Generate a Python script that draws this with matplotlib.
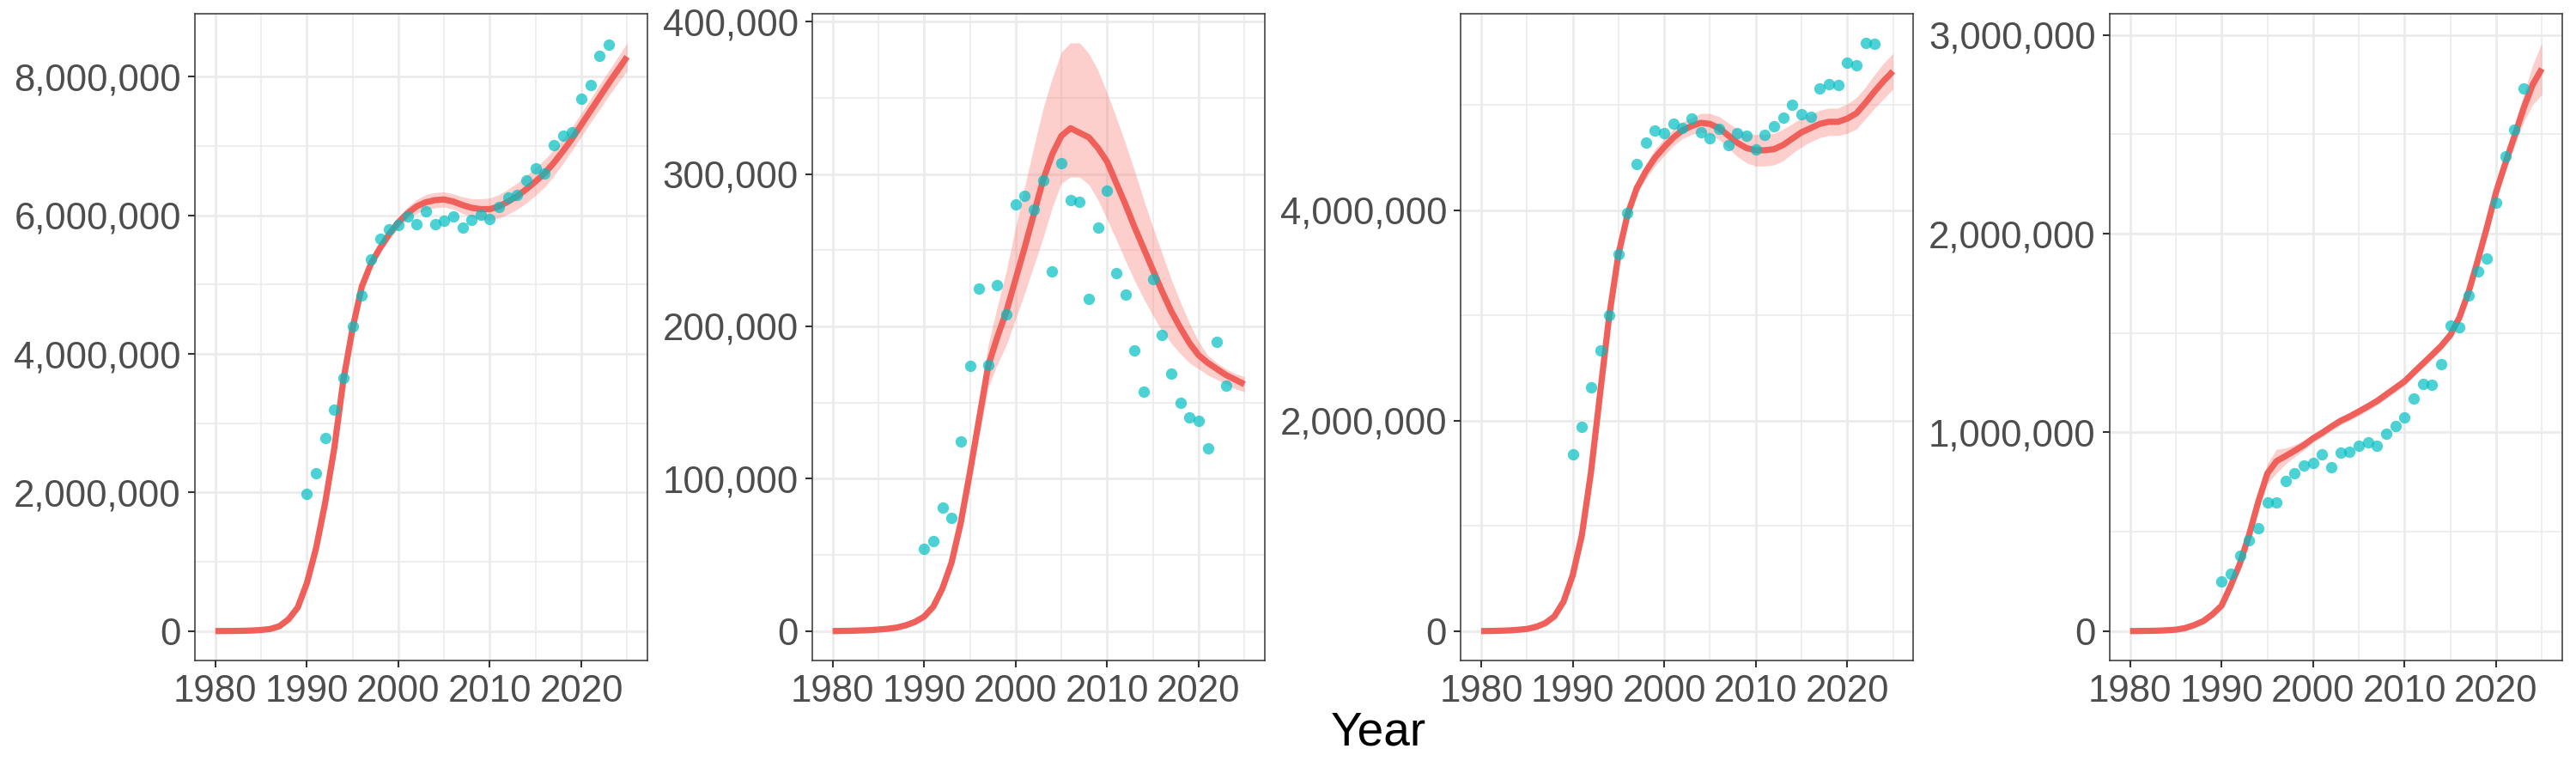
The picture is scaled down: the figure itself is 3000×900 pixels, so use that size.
import numpy as np
import matplotlib
matplotlib.use("Agg")
import matplotlib.pyplot as plt
from matplotlib.ticker import MultipleLocator, FuncFormatter

plt.rcParams['font.family'] = ['Liberation Sans', 'DejaVu Sans']

# ---- data ----
fit_years = np.arange(1980, 2026)
pt_years = np.arange(1990, 2024)

# panel 1, values in millions
fit1 = [0.000, 0.001, 0.002, 0.004, 0.008, 0.016, 0.03, 0.07, 0.17, 0.34,
        0.69, 1.19, 1.85, 2.64, 3.63, 4.37, 4.97, 5.30, 5.53, 5.73,
        5.90, 6.03, 6.13, 6.19, 6.22, 6.23, 6.20, 6.15, 6.11, 6.09,
        6.09, 6.13, 6.20, 6.28, 6.38, 6.49, 6.61, 6.76, 6.93, 7.11,
        7.31, 7.51, 7.71, 7.91, 8.10, 8.29]
band1 = [0, 0, 0, 0, 0, 0.005, 0.01, 0.015, 0.02, 0.03,
         0.04, 0.05, 0.06, 0.06, 0.06, 0.07, 0.07, 0.07, 0.07, 0.08,
         0.08, 0.09, 0.10, 0.11, 0.11, 0.11, 0.11, 0.12, 0.13, 0.15,
         0.16, 0.17, 0.18, 0.19, 0.20, 0.20, 0.20, 0.19, 0.18, 0.17,
         0.17, 0.17, 0.18, 0.18, 0.19, 0.20]
pts1 = [1.98, 2.28, 2.79, 3.20, 3.65, 4.40, 4.85, 5.37, 5.66, 5.80,
        5.86, 5.99, 5.87, 6.06, 5.87, 5.92, 5.99, 5.83, 5.94, 6.01,
        5.95, 6.12, 6.26, 6.30, 6.50, 6.68, 6.61, 7.01, 7.15, 7.20,
        7.68, 7.88, 8.30, 8.47]

# panel 2, values in thousands
fit2 = [0, 0.1, 0.2, 0.4, 0.6, 1.0, 1.5, 2.3, 3.8, 6.0,
        9.5, 16, 28, 45, 71, 104, 139, 174, 193, 210,
        231, 252, 274, 296, 313, 325, 330, 327, 324, 317,
        308, 294, 280, 265, 251, 237, 223, 210, 199, 189,
        181, 176, 172, 168, 165, 162]
lo2 = [0, 0, 0, 0.2, 0.4, 0.7, 1.1, 1.7, 2.9, 4.8,
       8.0, 14, 25, 41, 65, 97, 128, 160, 175, 188,
       205, 222, 240, 258, 278, 294, 298, 298, 293, 283,
       270, 257, 243, 230, 218, 207, 197, 189, 182, 176,
       172, 168, 165, 162, 159, 157]
hi2 = [0, 0.2, 0.4, 0.6, 0.8, 1.3, 1.9, 2.9, 4.7, 7.2,
       11, 18, 31, 50, 77, 112, 150, 188, 213, 237,
       265, 292, 318, 343, 363, 380, 386, 386, 379, 368,
       353, 337, 320, 302, 283, 265, 248, 231, 216, 202,
       190, 181, 176, 172, 169, 167]
pts2 = [54, 59, 81, 74, 124.5, 174, 225, 174.5, 227, 207.6,
        280, 285.5, 276.6, 296, 236, 307, 282.7, 281.5, 218, 264.6,
        289.3, 235, 221, 184, 157, 231, 194.4, 169, 150, 140,
        138, 120, 190, 161]

# panel 3, values in millions
fit3 = [0, 0.001, 0.003, 0.006, 0.012, 0.02, 0.04, 0.075, 0.14, 0.28,
        0.53, 0.91, 1.51, 2.26, 3.00, 3.58, 3.96, 4.21, 4.37, 4.50,
        4.60, 4.69, 4.76, 4.80, 4.83, 4.82, 4.78, 4.71, 4.64, 4.59,
        4.57, 4.57, 4.58, 4.62, 4.68, 4.74, 4.78, 4.82, 4.84, 4.84,
        4.87, 4.92, 5.02, 5.13, 5.23, 5.32]
band3 = [0, 0, 0, 0, 0, 0.005, 0.005, 0.01, 0.01, 0.015,
         0.02, 0.02, 0.03, 0.03, 0.03, 0.03, 0.04, 0.06, 0.07, 0.08,
         0.08, 0.08, 0.08, 0.08, 0.09, 0.10, 0.11, 0.12, 0.13, 0.14,
         0.15, 0.15, 0.15, 0.15, 0.14, 0.14, 0.13, 0.13, 0.13, 0.13,
         0.14, 0.15, 0.15, 0.16, 0.17, 0.17]
pts3 = [1.68, 1.94, 2.32, 2.67, 3.00, 3.58, 3.97, 4.44, 4.64, 4.76,
        4.73, 4.82, 4.78, 4.87, 4.74, 4.68, 4.77, 4.62, 4.73, 4.71,
        4.58, 4.72, 4.80, 4.88, 5.00, 4.91, 4.89, 5.16, 5.20, 5.19,
        5.40, 5.38, 5.59, 5.58]

# panel 4, values in millions
fit4 = [0, 0.0005, 0.001, 0.002, 0.004, 0.007, 0.015, 0.03, 0.05, 0.084,
        0.128, 0.228, 0.339, 0.483, 0.649, 0.793, 0.855, 0.881, 0.908, 0.936,
        0.970, 0.998, 1.029, 1.058, 1.080, 1.105, 1.131, 1.158, 1.191, 1.224,
        1.257, 1.302, 1.346, 1.390, 1.435, 1.490, 1.579, 1.707, 1.866, 2.032,
        2.209, 2.353, 2.490, 2.630, 2.750, 2.830]
band4 = [0, 0, 0, 0, 0, 0.002, 0.003, 0.004, 0.005, 0.007,
         0.01, 0.01, 0.015, 0.02, 0.03, 0.05, 0.06, 0.04, 0.03, 0.025,
         0.02, 0.02, 0.02, 0.02, 0.02, 0.02, 0.02, 0.02, 0.02, 0.02,
         0.02, 0.02, 0.02, 0.02, 0.02, 0.02, 0.02, 0.02, 0.025, 0.03,
         0.03, 0.04, 0.05, 0.07, 0.10, 0.13]
pts4 = [0.25, 0.29, 0.38, 0.456, 0.516, 0.649, 0.646, 0.757, 0.795, 0.835,
        0.848, 0.89, 0.824, 0.897, 0.903, 0.932, 0.952, 0.932, 0.992, 1.034,
        1.074, 1.169, 1.242, 1.238, 1.344, 1.539, 1.530, 1.687, 1.811, 1.875,
        2.156, 2.391, 2.524, 2.732]

year_ticks = [1980, 1990, 2000, 2010, 2020]

panels = [
    # fit, lower, upper, points, unit, major y step
    (fit1, np.array(fit1) - band1, np.array(fit1) + band1, pts1, 1e6, 2e6),
    (fit2, lo2, hi2, pts2, 1e3, 1e5),
    (fit3, np.array(fit3) - band3, np.array(fit3) + band3, pts3, 1e6, 2e6),
    (fit4, np.array(fit4) - band4, np.array(fit4) + band4, pts4, 1e6, 1e6),
]

# ---- figure ----
W, H = 3000, 900
fig = plt.figure(figsize=(30, 9), dpi=100)
lefts = [226.8, 945.7, 1701, 2456.7]
pw = 527.5
top, bottom = 15.7, 769

fmt = FuncFormatter(lambda v, p: f"{v:,.0f}")

for left, (fit, lo, hi, pts, unit, ystep) in zip(lefts, panels):
    ax = fig.add_axes([left / W, (H - bottom) / H, pw / W, (bottom - top) / H])
    ax.fill_between(fit_years, np.array(lo) * unit, np.array(hi) * unit,
                    color='#F8766D', alpha=0.35, linewidth=0, zorder=2)
    ax.plot(fit_years, np.array(fit) * unit, color='#F0605B', lw=5.2,
            solid_capstyle='butt', zorder=3)
    ax.scatter(pt_years, np.array(pts) * unit, s=92, color='#00BFC4',
               alpha=0.7, linewidths=0, zorder=4)
    ax.margins(x=0.05, y=0.05)

    ax.set_xticks(year_ticks)
    ax.xaxis.set_minor_locator(MultipleLocator(5))
    ax.yaxis.set_major_locator(MultipleLocator(ystep))
    ax.yaxis.set_minor_locator(MultipleLocator(ystep / 2))
    ax.yaxis.set_major_formatter(fmt)

    ax.set_axisbelow(True)
    ax.grid(which='major', color='#EBEBEB', lw=2.0)
    ax.grid(which='minor', color='#EBEBEB', lw=1.2)
    ax.tick_params(which='major', length=6, width=1.5, color='#333333',
                   labelsize=31.5, labelcolor='#4D4D4D', pad=5.5)
    ax.tick_params(which='minor', length=0)
    for sp in ax.spines.values():
        sp.set_color('#333333')
        sp.set_linewidth(1.1)

fig.text((lefts[0] + lefts[-1] + pw) / 2 / W, 1 - 854 / H, "Year",
         fontsize=39.5, color='black', ha='center', va='center')

fig.savefig("out.png", dpi=100, facecolor='white')
